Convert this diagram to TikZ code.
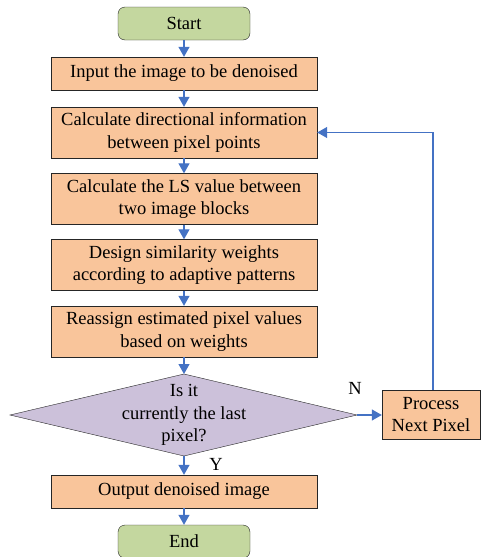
\documentclass[tikz,border=0pt]{standalone}
\usepackage{fontspec}
\setmainfont{Liberation Serif}
\usetikzlibrary{shapes.geometric,arrows.meta}
\definecolor{gfill}{HTML}{C4D79F}
\definecolor{ofill}{HTML}{F9C59B}
\definecolor{pfill}{HTML}{CCC1DA}
\definecolor{arr}{HTML}{4472C4}
\begin{document}
\begin{tikzpicture}[x=1pt,y=-1pt,
  every node/.style={font=\fontsize{18.5}{22.5}\selectfont},
  term/.style={draw=black!85,fill=gfill,rounded corners=7pt,minimum width=132pt,minimum height=33pt,inner sep=0pt},
  proc/.style={draw=black!85,fill=ofill,minimum width=266pt,inner sep=0pt,align=center},
  conn/.style={draw=arr,line width=1.2pt,-{Triangle[length=10pt,width=11pt]}},
  lab/.style={font=\fontsize{18.5}{22}\selectfont}]
\useasboundingbox (0,0) rectangle (480,557);
\node[term] (start) at (184,23.5) {Start};
\node[proc,minimum height=33pt] (b1) at (184,73.5) {Input the image to be denoised};
\node[proc,minimum height=51pt] (b2) at (184,132.5) {Calculate directional information\\between pixel points};
\node[proc,minimum height=51pt] (b3) at (184,199) {Calculate the LS value between\\two image blocks};
\node[proc,minimum height=51pt] (b4) at (184,265) {Design similarity weights\\according to adaptive patterns};
\node[proc,minimum height=51pt] (b5) at (184,331.5) {Reassign estimated pixel values\\based on weights};
\draw[draw=black!85,fill=pfill] (10,415) coordinate (dl) -- (184,374) coordinate (dt) -- (357,415) coordinate (dr) -- (184,456) coordinate (db) -- cycle;
\node[align=center,inner sep=0pt] (dtext) at (184,415) {Is it\\currently the last\\pixel?};
\node[draw=black!85,fill=ofill,minimum width=98pt,minimum height=49pt,inner sep=0pt,align=center] (pn) at (431,414.5) {Process\\Next Pixel};
\node[proc,minimum height=33pt] (out) at (184,491.5) {Output denoised image};
\node[term] (end) at (184,541.5) {End};
\draw[conn] (start) -- (b1);
\draw[conn] (b1) -- (b2);
\draw[conn] (b2) -- (b3);
\draw[conn] (b3) -- (b4);
\draw[conn] (b4) -- (b5);
\draw[conn] (b5) -- (dt);
\draw[conn] (dr) -- (pn.west |- dr);
\draw[conn] (db) -- (out);
\draw[conn] (out) -- (end);
\draw[conn] (pn.north -| 433,0) |- (b2.east);
\node[lab] (nlab) at (355,388) {N};
\node[lab] (ylab) at (216,464) {Y};
\end{tikzpicture}
\end{document}
